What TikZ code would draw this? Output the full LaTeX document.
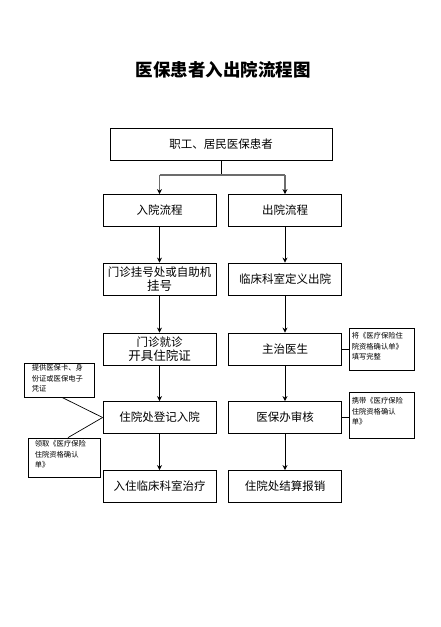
\documentclass[tikz,border=0pt]{standalone}
\usepackage{fontspec}
\newfontfamily\cjk{Noto Sans CJK SC}
\usetikzlibrary{arrows.meta,calc}
\tikzset{
  stepbox/.style={draw, line width=0.8pt, minimum width=113pt, minimum height=32pt, inner sep=1pt, align=center, font=\cjk\fontsize{11.5}{13.5}\selectfont},
  notebox/.style={draw, line width=0.8pt, inner sep=0pt},
  notetext/.style={anchor=north west, inner sep=0pt, align=left, font=\cjk\fontsize{7.3}{10.2}\selectfont},
  flow/.style={line width=0.9pt, -{Stealth[length=5pt,width=5pt]}},
  branch/.style={line width=1.4pt, draw=gray!85!black, -{Stealth[length=5pt,width=5pt,black]}},
  link/.style={line width=0.7pt}
}
\begin{document}
\begin{tikzpicture}[x=1pt,y=-1pt]
\useasboundingbox (0,0) rectangle (441,627);
\fill[white] (0,0) rectangle (441,627);
\node[font=\cjk\bfseries\fontsize{17.5}{20}\selectfont] (title) at (223,70) {医保患者入出院流程图};
\node[stepbox, minimum width=222pt] (top) at (221,144) {职工、居民医保患者};
\node[stepbox] (a1) at (159.5,210.5) {入院流程};
\node[stepbox] (b1) at (285,210.5) {出院流程};
\node[stepbox] (a2) at (159.5,279) {门诊挂号处或自助机\\{\fontsize{12.5}{13}\selectfont 挂号}};
\node[stepbox] (b2) at (285,279) {临床科室定义出院};
\node[stepbox] (a3) at (159.5,349) {门诊就诊\\{\fontsize{12.5}{13}\selectfont 开具住院证}};
\node[stepbox] (b3) at (285,349) {主治医生};
\node[stepbox] (a4) at (159.5,417.5) {住院处登记入院};
\node[stepbox] (b4) at (285,417.5) {医保办审核};
\node[stepbox] (a5) at (159.5,486.5) {入住临床科室治疗};
\node[stepbox] (b5) at (285,486.5) {住院处结算报销};
% notes
\node[notebox, minimum width=70pt, minimum height=34pt] (nL1) at (59,380) {};
\node[notetext] (tL1) at ([shift={(8pt,-2pt)}]nL1.north west) {提供医保卡、身\\份证或医保电子\\凭证};
\node[notebox, minimum width=72pt, minimum height=39pt] (nL2) at (64,457.5) {};
\node[notetext] (tL2) at ([shift={(7pt,-3pt)}]nL2.north west) {领取《医疗保险\\住院资格确认\\单》};
\node[notebox, minimum width=65pt, minimum height=42pt] (nR1) at (381.5,349) {};
\node[notetext] (tR1) at ([shift={(3pt,-5pt)}]nR1.north west) {将《医疗保险住\\院资格确认单》\\填写完整};
\node[notebox, minimum width=65pt, minimum height=46pt] (nR2) at (381.5,415) {};
\node[notetext] (tR2) at ([shift={(3pt,-6pt)}]nR2.north west) {携带《医疗保险\\住院资格确认\\单》};
% connectors
\coordinate (fork) at (221,175);
\draw[line width=0.9pt] (top.south) -- (fork);
\draw[line width=1.4pt, gray!85!black] (a1.north |- fork) -- (b1.north |- fork);
\draw[branch] (a1.north |- fork) -- (a1.north);
\draw[branch] (b1.north |- fork) -- (b1.north);
\draw[flow] (a1) -- (a2);
\draw[flow] (a2) -- (a3);
\draw[flow] (a3) -- (a4);
\draw[flow] (a4) -- (a5);
\draw[flow] (b1) -- (b2);
\draw[flow] (b2) -- (b3);
\draw[flow] (b3) -- (b4);
\draw[flow] (b4) -- (b5);
\draw[link] ([xshift=3pt]nL1.south) -- (a4.west);
\draw[link] ([xshift=4pt]nL2.north) -- (a4.west);
\draw[link] (b3.east) -- (b3.east -| nR1.west);
\draw[link] (b4.east) -- (b4.east -| nR2.west);
\end{tikzpicture}
\end{document}
